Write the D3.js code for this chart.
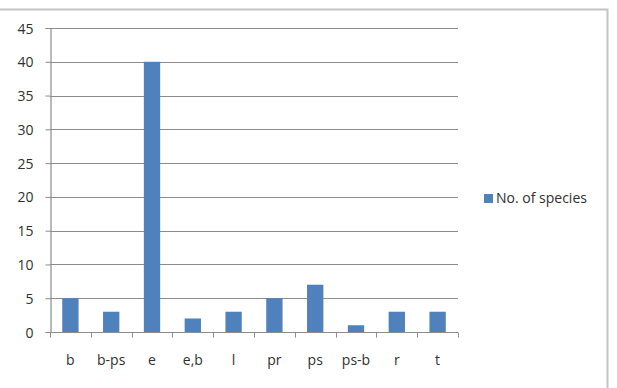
<html lang="en">
<head>
    <meta charset="UTF-8">
    <title>No. of species</title>
    <script src="https://d3js.org/d3.v7.min.js"></script>
    <style>
        body { margin: 0; background: #ffffff; }
        svg { display: block; }
        .tick text, .xlabel, .legend text { font-family: 'Open Sans', sans-serif; font-size: 14px; fill: #303030; }
    </style>
</head>
<body>
    <div id="chart"></div>
    <script>
        const categories = ['b', 'b-ps', 'e', 'e,b', 'l', 'pr', 'ps', 'ps-b', 'r', 't'];
        const species = [5, 3, 40, 2, 3, 5, 7, 1, 3, 3];
        const yTicks = [0, 5, 10, 15, 20, 25, 30, 35, 40, 45];
        const seriesName = 'No. of species';

        const width = 617, height = 388;
        const plot = { left: 50, right: 458, top: 28, bottom: 332 };

        const svg = d3.select('#chart').append('svg')
            .attr('width', width)
            .attr('height', height);

        // chart frame
        svg.append('path')
            .attr('d', `M0,9.5 H607.5 V${height}`)
            .attr('fill', 'none')
            .attr('stroke', '#c4c4c4')
            .attr('stroke-width', 2);

        const x = d3.scaleBand()
            .domain(categories)
            .range([plot.left, plot.right])
            .paddingInner(0.6)
            .paddingOuter(0.3);

        const y = d3.scaleLinear()
            .domain([0, 45])
            .range([plot.bottom, plot.top]);

        // gridlines
        svg.append('g')
            .selectAll('line')
            .data(yTicks.filter(d => d > 0))
            .join('line')
            .attr('x1', plot.left)
            .attr('x2', plot.right)
            .attr('y1', d => Math.round(y(d)) + 0.5)
            .attr('y2', d => Math.round(y(d)) + 0.5)
            .attr('stroke', '#8c8c8c')
            .attr('stroke-width', 1.2);

        // bars
        svg.append('g')
            .selectAll('rect')
            .data(categories)
            .join('rect')
            .attr('x', (d) => x(d))
            .attr('width', x.bandwidth())
            .attr('y', (d, i) => y(species[i]))
            .attr('height', (d, i) => y(0) - y(species[i]))
            .attr('fill', '#4f81bd');

        // y axis
        const yAxis = svg.append('g')
            .attr('transform', `translate(${plot.left + 0.5},0)`)
            .call(d3.axisLeft(y).tickValues(yTicks).tickSize(5));
        yAxis.select('.domain').attr('stroke', '#8c8c8c').attr('stroke-width', 1.2);
        yAxis.selectAll('.tick line').attr('stroke', '#8c8c8c');
        yAxis.selectAll('.tick text').attr('x', -17).attr('dy', '0.36em');

        // x axis with category boundary ticks
        const xAxis = svg.append('g')
            .attr('transform', `translate(0,${Math.round(y(0)) + 0.5})`);
        xAxis.append('line')
            .attr('x1', plot.left)
            .attr('x2', plot.right)
            .attr('stroke', '#8c8c8c')
            .attr('stroke-width', 1.2);
        const bounds = d3.range(categories.length + 1).map(i => plot.left + i * (plot.right - plot.left) / categories.length);
        xAxis.selectAll('line.bound')
            .data(bounds)
            .join('line')
            .attr('class', 'bound')
            .attr('x1', d => Math.round(d) + 0.5)
            .attr('x2', d => Math.round(d) + 0.5)
            .attr('y1', 0)
            .attr('y2', 5)
            .attr('stroke', '#8c8c8c');
        xAxis.selectAll('text')
            .data(categories)
            .join('text')
            .attr('class', 'xlabel')
            .attr('x', d => x(d) + x.bandwidth() / 2)
            .attr('y', 32)
            .attr('text-anchor', 'middle')
            .text(d => d);

        // legend
        const legend = svg.append('g').attr('class', 'legend')
            .attr('transform', 'translate(484,194)');
        legend.append('rect')
            .attr('width', 9)
            .attr('height', 9)
            .attr('fill', '#4f81bd');
        legend.append('text')
            .attr('x', 12)
            .attr('y', 9)
            .text(seriesName);
    </script>
</body>
</html>
